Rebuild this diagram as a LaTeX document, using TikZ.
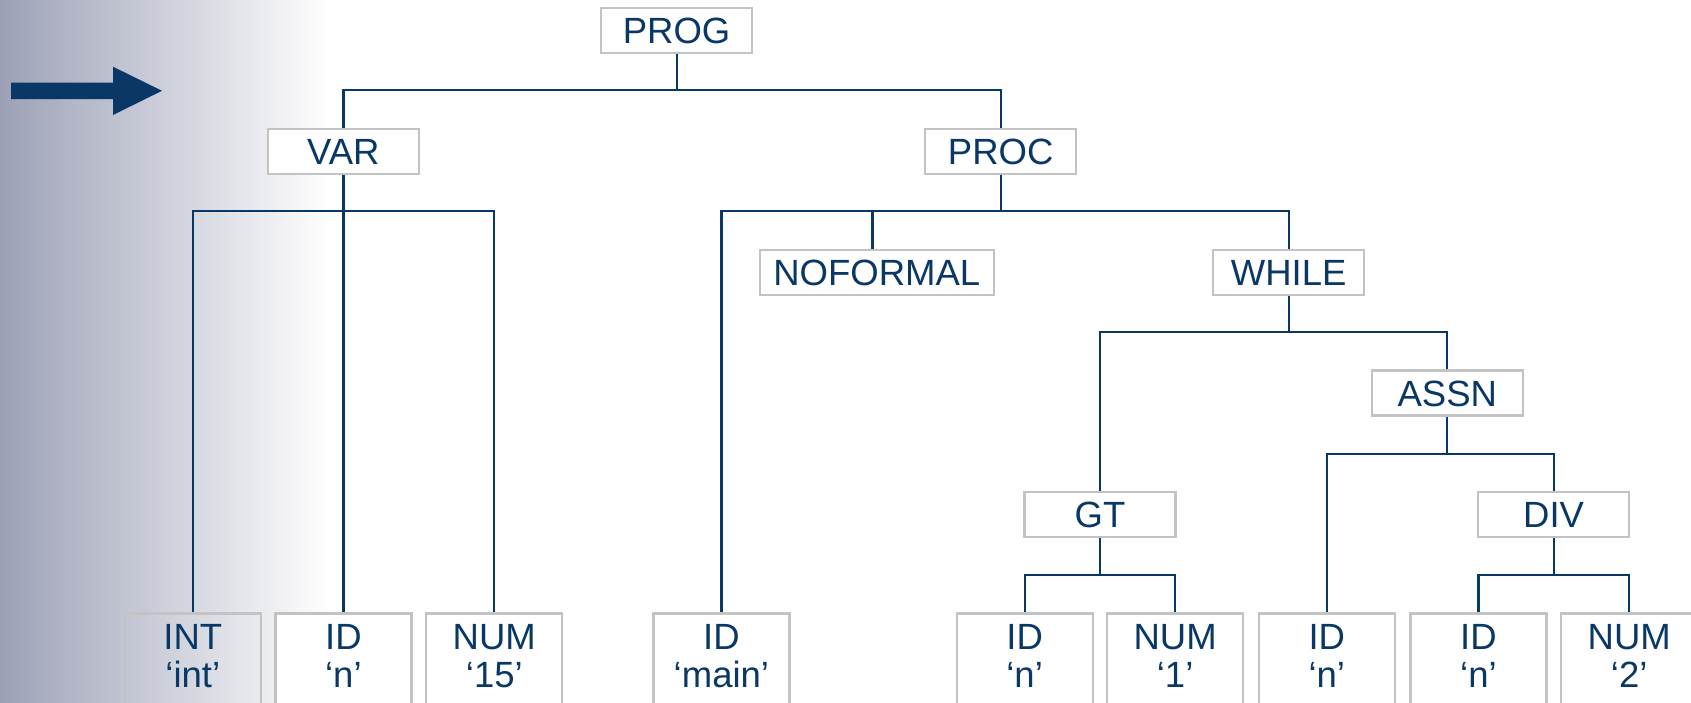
\documentclass[tikz,border=0pt]{standalone}
\usepackage{fontspec}
\setmainfont{Liberation Sans}
\usetikzlibrary{backgrounds}
\definecolor{navy}{HTML}{0A3866}
\definecolor{boxgray}{HTML}{C3C3C3}
\definecolor{gradleft}{HTML}{9CA1B6}
\newcommand\leaftxt[2]{\parbox[t]{130pt}{\centering #1\\#2}}
\begin{document}
\begin{tikzpicture}[x=1pt,y=-1pt,
  every node/.style={font=\fontsize{36.5}{38}\selectfont, text=navy},
  tbox/.style={draw=boxgray, line width=2.2pt, fill=white, minimum height=45pt,
    minimum width=151pt, inner xsep=0pt, inner ysep=0pt, text height=26pt, text depth=0pt},
  leaf/.style={draw=boxgray, line width=2.2pt, fill=white, anchor=north,
    minimum width=136pt, inner xsep=0pt, inner ysep=10.5pt, text height=26pt, text depth=100pt},
  edge/.style={draw=navy, line width=2.2pt}]
\useasboundingbox (0,0) rectangle (1691,702);

% inner nodes
\node[tbox] (prog) at (676.6,30.3) {PROG};
\node[tbox] (var) at (343.4,151.2) {VAR};
\node[tbox] (proc) at (1000.7,151.2) {PROC};
\node[tbox, minimum width=234pt] (nof) at (876.8,272.2) {NOFORMAL};
\node[tbox] (while) at (1288.6,272.2) {WHILE};
\node[tbox] (assn) at (1447.3,393) {ASSN};
\node[tbox] (gt) at (1100,514.3) {GT};
\node[tbox] (div) at (1553.6,514.3) {DIV};

% leaves
\node[leaf, fill=none] (l1) at (192.8,612.3) {\leaftxt{INT}{‘int’}};
\node[leaf] (l2) at (343.4,612.3) {\leaftxt{ID}{‘n’}};
\node[leaf] (l3) at (494.3,612.3) {\leaftxt{NUM}{‘15’}};
\node[leaf] (l4) at (721.4,612.3) {\leaftxt{ID}{‘main’}};
\node[leaf] (l5) at (1024.6,612.3) {\leaftxt{ID}{‘n’}};
\node[leaf] (l6) at (1175.1,612.3) {\leaftxt{NUM}{‘1’}};
\node[leaf] (l7) at (1326.8,612.3) {\leaftxt{ID}{‘n’}};
\node[leaf] (l8) at (1478.4,612.3) {\leaftxt{ID}{‘n’}};
\node[leaf] (l9) at (1629.2,612.3) {\leaftxt{NUM}{‘2’}};

% arrow
\fill[navy] (11,82.7) -- (113,82.7) -- (113,66.7) -- (162,90.8) -- (113,115)
  -- (113,99) -- (11,99) -- cycle;

\coordinate (b1) at (0,90.3);
\coordinate (b2) at (0,211.3);
\coordinate (b3) at (0,332.3);
\coordinate (b4) at (0,454);
\coordinate (b5) at (0,574.6);

\begin{scope}[on background layer]
\fill[white] (0,0) rectangle (1691,702);
\shade[left color=gradleft, right color=white] (0,0) rectangle (330,702);
% PROG
\draw[edge] (prog.south) -- (prog.south |- b1);
\draw[edge] (var.north) -- (var.north |- b1) -- (proc.north |- b1) -- (proc.north);
% VAR
\draw[edge] (var.south) -- (l2.north);
\draw[edge] (l1.north) -- (l1.north |- b2) -- (l3.north |- b2) -- (l3.north);
% PROC
\draw[edge] (proc.south) -- (proc.south |- b2);
\draw[edge] (l4.north) -- (l4.north |- b2) -- (while.north |- b2) -- (while.north);
\draw[edge] ([xshift=-4.4pt]nof.north) -- ([xshift=-4.4pt]nof.north |- b2);
% WHILE
\draw[edge] (while.south) -- (while.south |- b3);
\draw[edge] (gt.north) -- (gt.north |- b3) -- (assn.north |- b3) -- (assn.north);
% ASSN
\draw[edge] (assn.south) -- (assn.south |- b4);
\draw[edge] (l7.north) -- (l7.north |- b4) -- (div.north |- b4) -- (div.north);
% GT
\draw[edge] (gt.south) -- (gt.south |- b5);
\draw[edge] (l5.north) -- (l5.north |- b5) -- (l6.north |- b5) -- (l6.north);
% DIV
\draw[edge] (div.south) -- (div.south |- b5);
\draw[edge] (l8.north) -- (l8.north |- b5) -- (l9.north |- b5) -- (l9.north);
\end{scope}
\end{tikzpicture}
\end{document}
